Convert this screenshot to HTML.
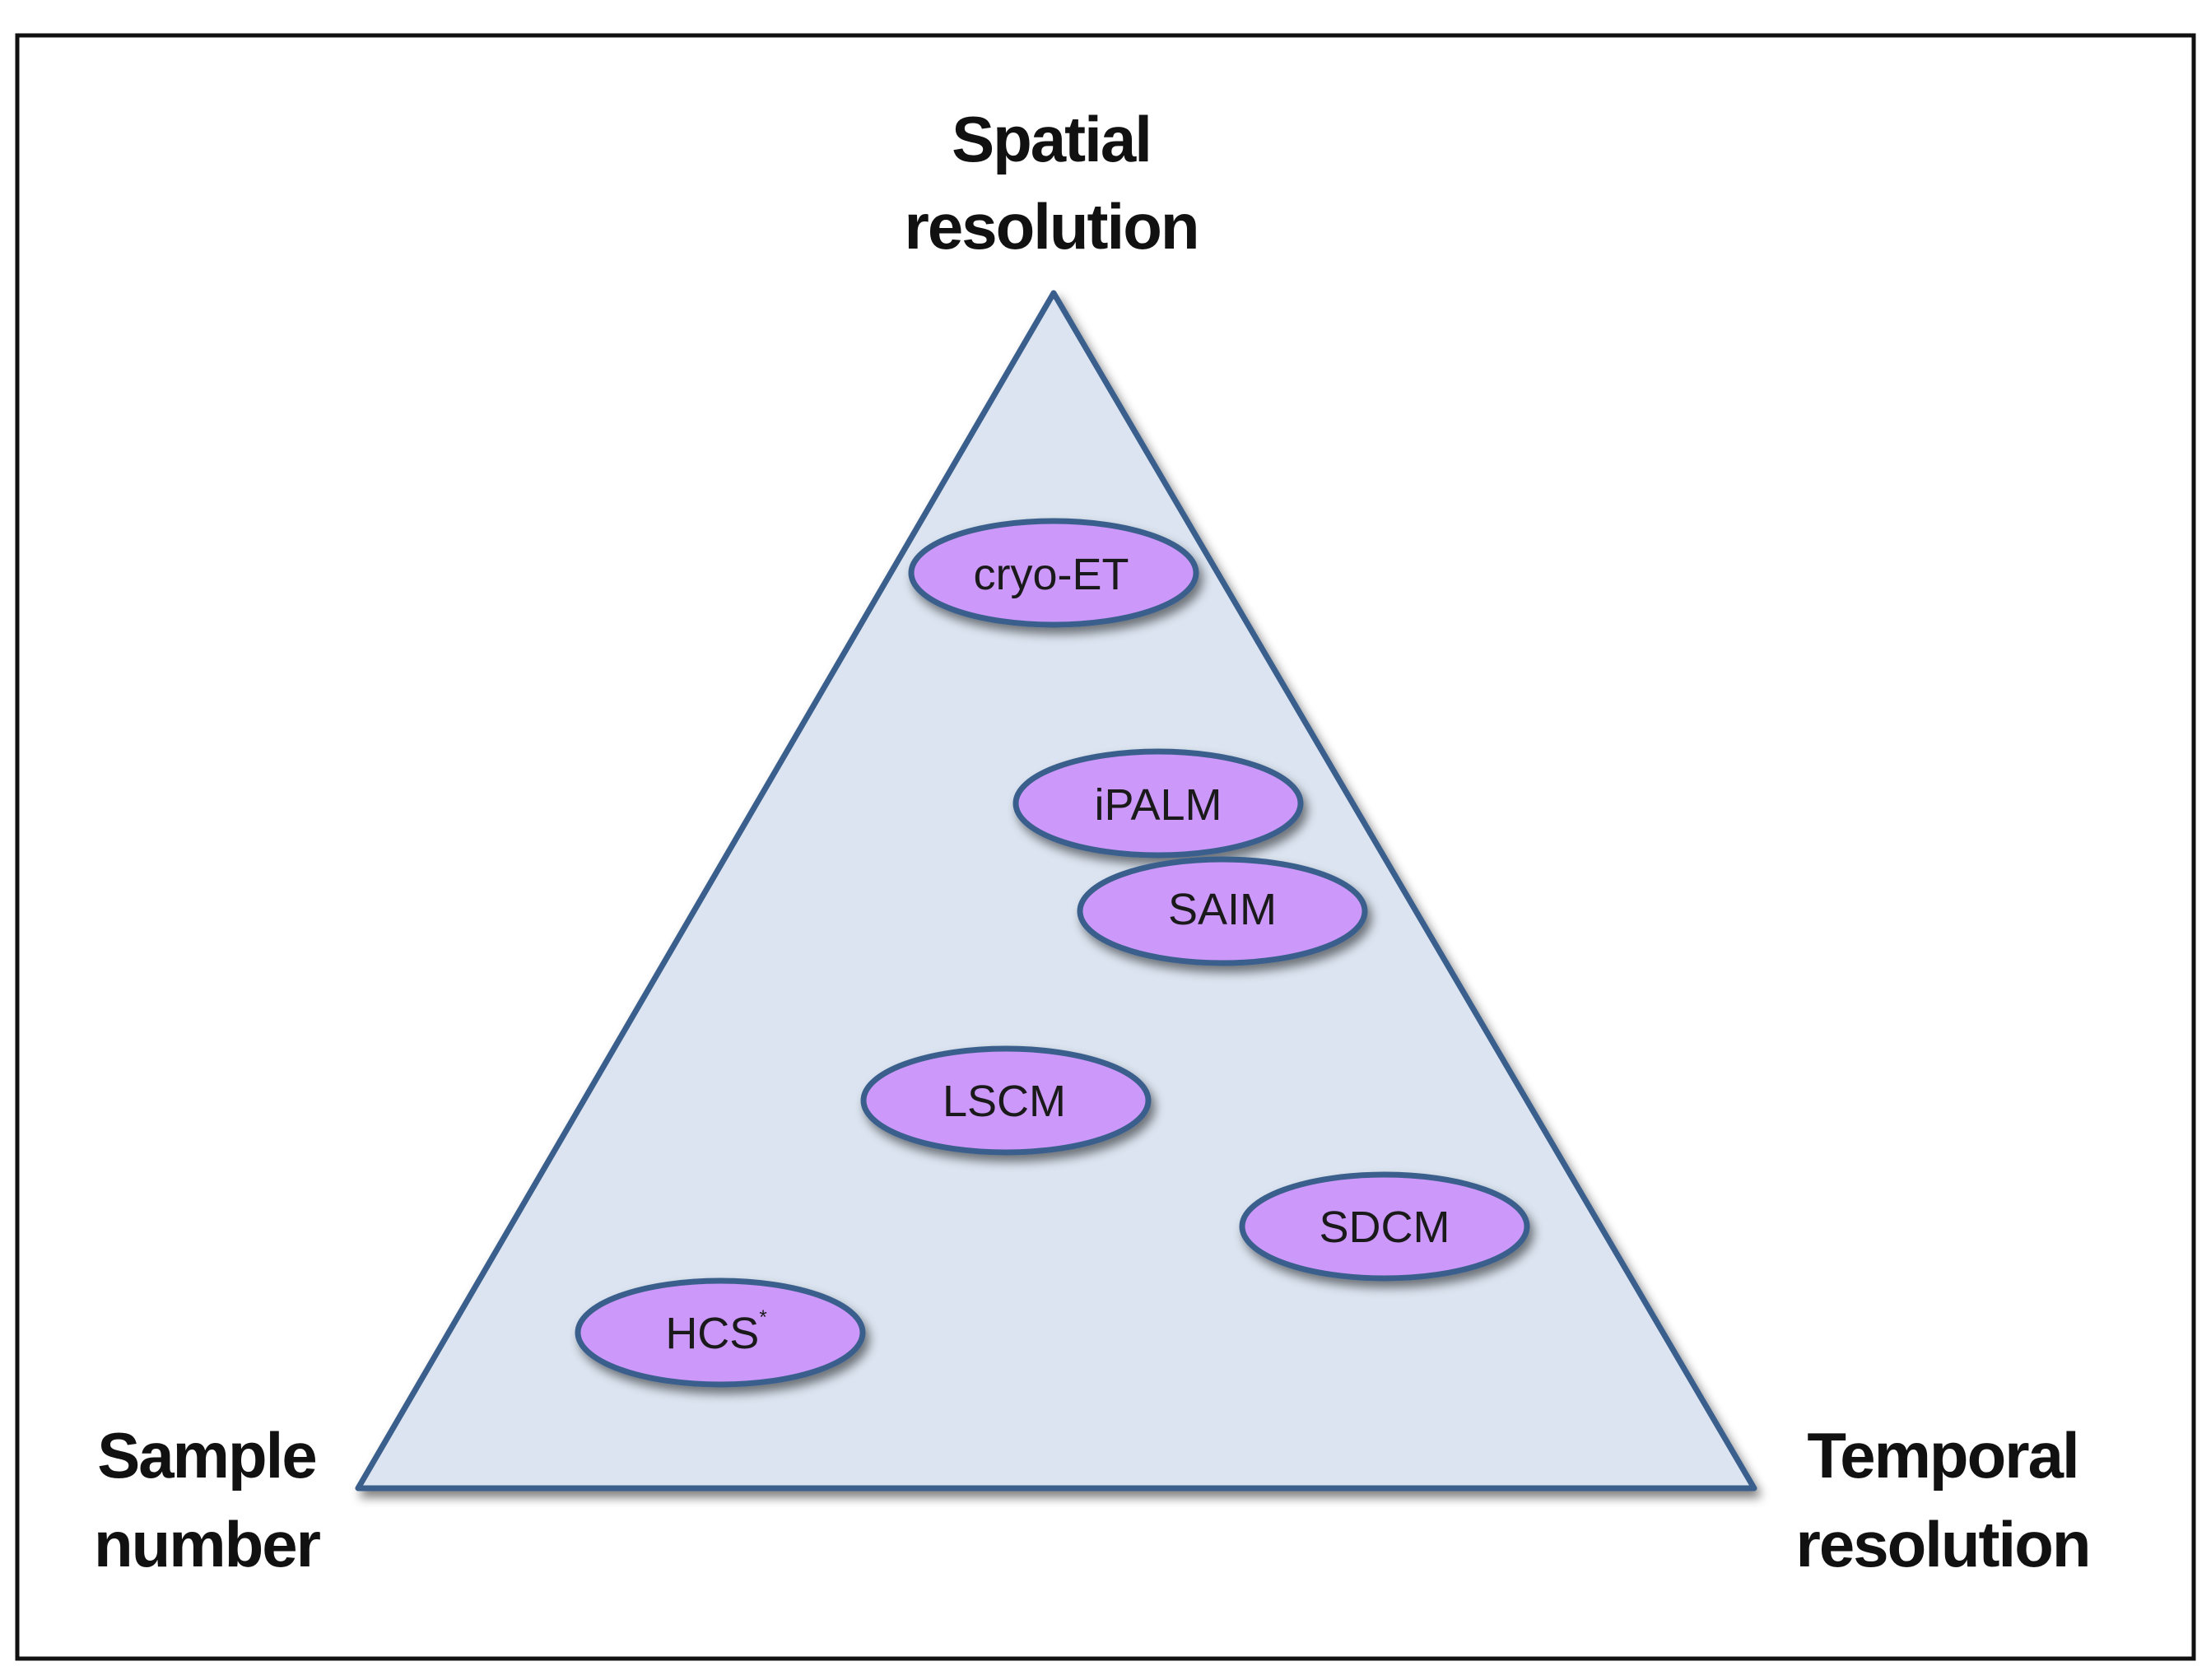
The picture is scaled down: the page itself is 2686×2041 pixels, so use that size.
<!DOCTYPE html>
<html><head><meta charset="utf-8"><style>
html,body{margin:0;padding:0;background:#fff;}
svg{display:block;}
</style></head><body>
<svg width="2686" height="2041" viewBox="0 0 2686 2041" xmlns="http://www.w3.org/2000/svg">
<defs>
<filter id="sh" x="-20%" y="-20%" width="140%" height="150%">
<feGaussianBlur in="SourceAlpha" stdDeviation="6"/>
<feOffset dx="5" dy="8" result="o"/>
<feComponentTransfer><feFuncA type="linear" slope="0.5"/></feComponentTransfer>
<feMerge><feMergeNode/><feMergeNode in="SourceGraphic"/></feMerge>
</filter>
</defs>
<rect x="21" y="43" width="2644" height="1972" fill="#fff" stroke="#111" stroke-width="5"/>
<polygon points="1280,356 435,1808 2131,1808" fill="#dbe4f0" stroke="#3b5f8c" stroke-width="7" stroke-linejoin="round" filter="url(#sh)"/>
<g font-family="'Liberation Sans',sans-serif" font-weight="bold" font-size="78" fill="#111" text-anchor="middle" letter-spacing="-2">
<text x="1277" y="196">Spatial</text>
<text x="1277" y="302">resolution</text>
<text x="251" y="1795">Sample</text>
<text x="251" y="1903">number</text>
<text x="2360" y="1795">Temporal</text>
<text x="2360" y="1903">resolution</text>
</g>
<g fill="#cc99fa" stroke="#3b5f8c" stroke-width="7" filter="url(#sh)">
<ellipse cx="1280" cy="696" rx="173" ry="63"/>
<ellipse cx="1407" cy="976" rx="173" ry="63"/>
<ellipse cx="1485" cy="1107" rx="173" ry="63"/>
<ellipse cx="1222" cy="1337" rx="173" ry="63"/>
<ellipse cx="1682" cy="1490" rx="173" ry="63"/>
<ellipse cx="875" cy="1619" rx="173" ry="63"/>
</g>
<g font-family="'Liberation Sans',sans-serif" font-size="54" fill="#1a1a1a" text-anchor="middle">
<text x="1277" y="716">cryo-ET</text>
<text x="1407" y="996">iPALM</text>
<text x="1485" y="1123">SAIM</text>
<text x="1220" y="1356">LSCM</text>
<text x="1682" y="1509">SDCM</text>
<text x="870" y="1638">HCS<tspan font-size="24" dy="-30">*</tspan></text>
</g>
</svg>
</body></html>
